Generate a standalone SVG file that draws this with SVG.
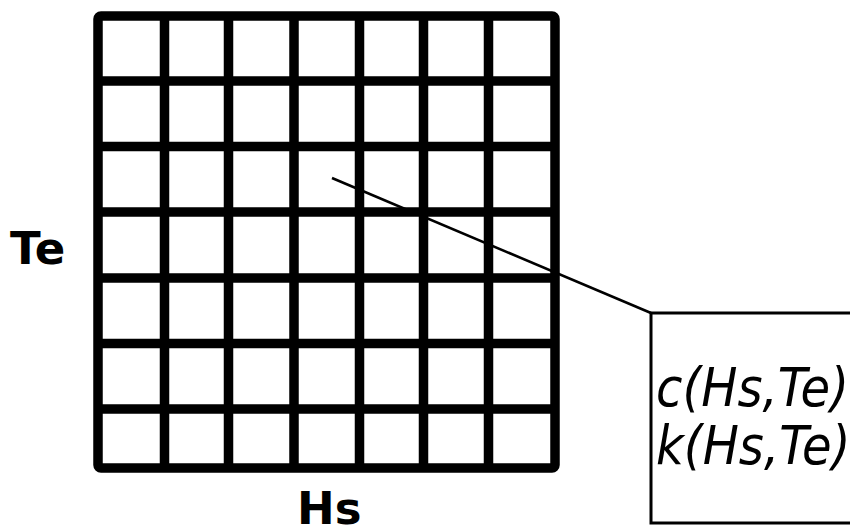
<svg xmlns="http://www.w3.org/2000/svg" width="850" height="527" viewBox="0 0 850 527">
<style>
.grid{stroke:#000;stroke-width:9.5;fill:none;stroke-linecap:butt}
.frame{stroke:#000;stroke-width:9.5;fill:none;stroke-linejoin:round}
.lbl{font-family:"DejaVu Sans","Verdana",sans-serif;font-weight:bold;font-size:45px;fill:#000}
.fn{font-family:"DejaVu Sans Condensed","DejaVu Sans",sans-serif;font-style:italic;font-size:53.5px;fill:#000}
</style>
<rect width="850" height="527" fill="#fff"/>
<g id="grid">
<rect class="frame" x="98" y="16" width="457" height="452" rx="3"/>
<path class="grid" d="M164.5 16V468M228.5 16V468M294 16V468M359.5 16V468M423.5 16V468M488.5 16V468M98 81H555M98 146.5H555M98 212H555M98 278H555M98 343.5H555M98 409H555"/>
</g>
<g id="label-te"><text class="lbl" x="10" y="264">Te</text></g>
<g id="label-hs"><text class="lbl" x="297" y="524">Hs</text></g>
<g id="connectors">
<line x1="332" y1="178" x2="651" y2="313" stroke="#000" stroke-width="2.6"/>
</g>
<g id="callout">
<rect x="651" y="313" width="210" height="210" fill="none" stroke="#000" stroke-width="3"/>
<text class="fn" x="656" y="406">c(Hs,Te)</text>
<text class="fn" x="656" y="464">k(Hs,Te)</text>
</g>
</svg>
